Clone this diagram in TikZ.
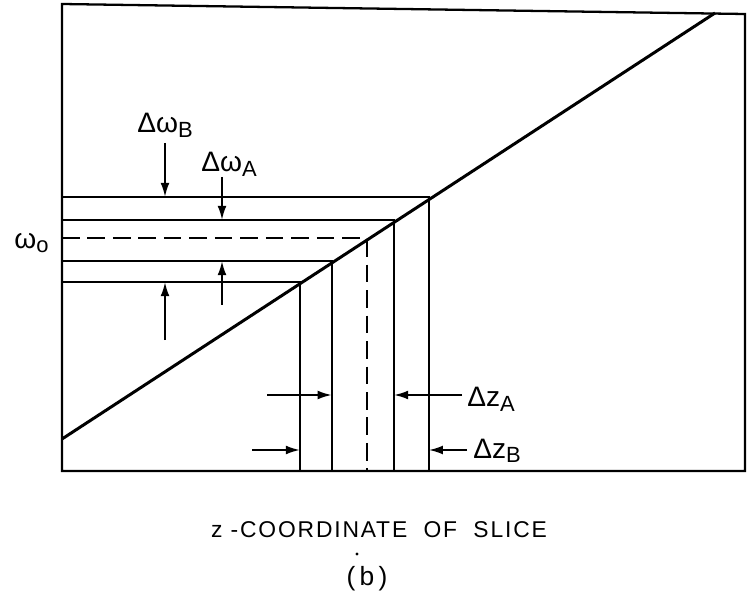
\documentclass[tikz,border=0pt]{standalone}
\usepackage{fontspec}
\setmainfont{Liberation Sans}
\usepackage{tikz}
\usetikzlibrary{arrows.meta}
\newcommand{\lsub}[1]{\raisebox{-0.32ex}{\fontsize{12.5}{12.5}\selectfont #1}}

\begin{document}
\begin{tikzpicture}[
      ln/.style={line width=1.3pt},
      arr/.style={-{Latex[length=8pt,width=5pt]}, line width=1.1pt},
      lbl/.style={font=\fontsize{16}{18}\selectfont, inner sep=0pt, anchor=base west},
      captxt/.style={font=\fontsize{13}{15}\selectfont\addfontfeature{LetterSpace=8}, inner sep=1pt}
    ]
    \useasboundingbox (0,0) rectangle (15.12,12);

    % frame and the slice line
    \coordinate (bl) at (1.24,2.58);
    \coordinate (tl) at (1.24,11.92);
    \coordinate (tr) at (14.90,11.72);
    \coordinate (br) at (14.90,2.58);
    \draw[ln] (bl) -- (tl) -- (tr) -- (br) -- cycle;
    \coordinate (dlo) at (1.24,3.22);
    \coordinate (dhi) at (14.30,11.74);
    \draw[line width=1.7pt] (dlo) -- (dhi);

    % band edges: lower B, lower A, upper A, upper B
    \coordinate (pBl) at (6.000,6.36);
    \coordinate (pAl) at (6.636,6.78);
    \coordinate (pc)  at (7.333,7.24);
    \coordinate (pAu) at (7.879,7.60);
    \coordinate (pBu) at (8.576,8.06);
    \foreach \p in {pBl, pAl, pAu, pBu}{
      \draw[ln] (bl |- \p) -- (\p) -- (\p |- bl);
    }
    \draw[ln, dash pattern=on 10pt off 4.5pt] (bl |- pc) -- (pc) -- (pc |- bl);

    % frequency labels
    \node[lbl] (w0)  at (0.28,7.04) {ω\lsub{o}};
    \node[lbl] (dwB) at (2.74,9.34) {Δω\lsub{B}};
    \node[lbl] (dwA) at (4.02,8.56) {Δω\lsub{A}};

    \coordinate (wBt) at (3.30,9.14);
    \coordinate (wBb) at (3.30,5.20);
    \coordinate (wAt) at (4.44,8.46);
    \coordinate (wAb) at (4.44,5.90);
    \draw[arr] (wBt) -- (wBt |- pBu);
    \draw[arr] (wBb) -- (wBb |- pBl);
    \draw[arr] (wAt) -- (wAt |- pAu);
    \draw[arr] (wAb) -- (wAb |- pAl);

    % slice width labels
    \node[lbl] (dzA) at (9.34,3.86) {Δz\lsub{A}};
    \node[lbl] (dzB) at (9.46,2.84) {Δz\lsub{B}};

    \coordinate (zAl) at (5.34,4.10);
    \coordinate (zAr) at (9.24,4.10);
    \coordinate (zBl) at (5.04,3.00);
    \coordinate (zBr) at (9.34,3.00);
    \draw[arr] (zAl) -- (zAl -| pAl);
    \draw[arr] (zAr) -- (zAr -| pAu);
    \draw[arr] (zBl) -- (zBl -| pBl);
    \draw[arr] (zBr) -- (zBr -| pBu);

    \node[captxt] (xlab) at (7.58,1.40) {z -COORDINATE\ \ OF\ \ SLICE};
    \node[captxt, font=\fontsize{15}{17}\selectfont\addfontfeature{LetterSpace=8}]
         (sub) at (7.34,0.42) {(\,b\,)};
    \coordinate (spot) at (7.14,0.92);
    \fill (spot) circle (0.9pt);
  \end{tikzpicture}
\end{document}
